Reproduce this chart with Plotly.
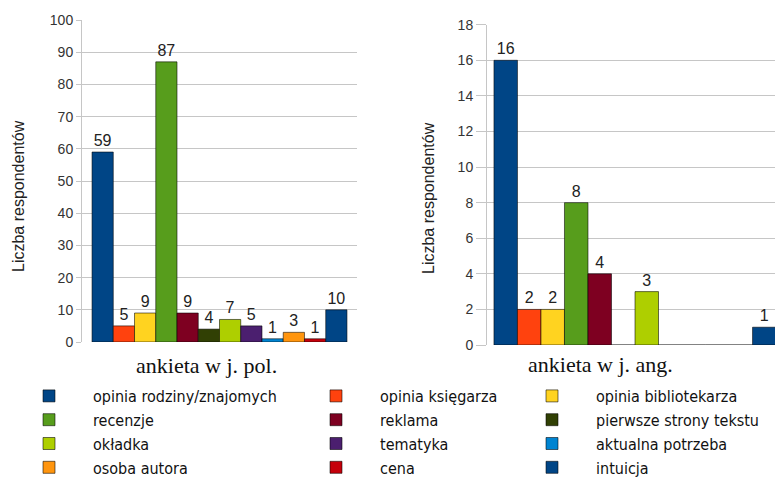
import plotly.graph_objects as go

categories = ["opinia rodziny/znajomych", "opinia księgarza", "opinia bibliotekarza",
              "recenzje", "reklama", "pierwsze strony tekstu",
              "okładka", "tematyka", "aktualna potrzeba",
              "osoba autora", "cena", "intuicja"]
pol_values = [59, 5, 9, 87, 9, 4, 7, 5, 1, 3, 1, 10]
ang_values = [16, 2, 2, 8, 4, 0, 3, 0, 0, 0, 0, 1]
colors = ["#004586", "#ff420e", "#ffd320", "#579d1c", "#7e0021", "#314004",
          "#aecf00", "#4b1f6f", "#0084d1", "#ff950e", "#c5000b", "#004586"]
group_labels = ["ankieta w j. pol.", "ankieta w j. ang."]
y_title = "Liczba respondentów"
pol_ticks = list(range(0, 101, 10))
ang_ticks = list(range(0, 19, 2))

legend_ids = ["legend", "legend2", "legend3"]
OFF = 8  # page body margin
W, H = 783 - OFF, 477 - OFF


def fx(px):
    return (px - OFF) / W


def fy(py):
    return (H - (py - OFF)) / H


fig = go.Figure()
for i, cat in enumerate(categories):
    for k, (vals, xa, ya) in enumerate([(pol_values, "x", "y"), (ang_values, "x2", "y2")]):
        v = vals[i]
        fig.add_trace(go.Bar(
            x=[group_labels[k]], y=[v], name=cat, legendgroup=cat,
            legend=legend_ids[i % 3], showlegend=(k == 0),
            xaxis=xa, yaxis=ya,
            marker=dict(color=colors[i], line=dict(color="rgba(0,0,0,0.55)", width=1)),
            text=[str(v) if v else ""], textposition="outside", cliponaxis=False,
            textfont=dict(family="Liberation Sans, Arial", size=16, color="#222"),
            hoverinfo="name+y",
        ))

tickfont = dict(family="Liberation Sans, Arial", size=14, color="#333")
grid = "#c6c6c6"


def yaxis(domain, rng, ticks, ticklen, anchor):
    return dict(domain=domain, range=rng, tickvals=ticks, ticks="outside", ticklen=ticklen,
                tickcolor=grid, gridcolor=grid, showline=True, linecolor=grid,
                zeroline=False, tickfont=tickfont, anchor=anchor, fixedrange=True,
                automargin=False)


def xaxis(domain, rng, anchor):
    return dict(domain=domain, range=rng, showticklabels=False, showgrid=False,
                zeroline=False, ticks="", anchor=anchor, type="category", automargin=False)


legfont = dict(family="DejaVu Sans Condensed, Liberation Sans Narrow, DejaVu Sans", size=16, color="#111")


def legend(xpx):
    return dict(x=fx(xpx), y=fy(379), xanchor="left", yanchor="top",
                orientation="v", font=legfont, itemwidth=78, tracegroupgap=0,
                bgcolor="rgba(0,0,0,0)", borderwidth=0)


fig.update_layout(
    width=W, height=H, margin=dict(l=0, r=0, t=0, b=0, autoexpand=False),
    paper_bgcolor="white", plot_bgcolor="white",
    barmode="group", bargap=0.047, bargroupgap=0,
    xaxis=xaxis([fx(82), fx(357)], [-0.514, 0.514], "y"),
    yaxis=yaxis([fy(342), fy(20)], [0, 100], pol_ticks, 5, "x"),
    xaxis2=xaxis([fx(487), 1.0], [-0.5, 0.5], "y2"),
    yaxis2=yaxis([fy(345), fy(24.7)], [0, 18], ang_ticks, 10, "x2"),
    legend=legend(5), legend2=legend(292), legend3=legend(508),
    showlegend=True,
)

label_font = dict(family="Liberation Serif, Times New Roman, serif", size=22, color="#111")
fig.add_annotation(text=group_labels[0], x=fx(206), y=fy(365), xref="paper", yref="paper",
                   showarrow=False, font=label_font, xanchor="center", yanchor="middle")
fig.add_annotation(text=group_labels[1], x=fx(600), y=fy(364), xref="paper", yref="paper",
                   showarrow=False, font=label_font, xanchor="center", yanchor="middle")
ytfont = dict(family="Liberation Sans, Arial", size=16, color="#222")
fig.add_annotation(text=y_title, x=fx(18), y=fy(196), xref="paper", yref="paper",
                   showarrow=False, font=ytfont, textangle=-90, xanchor="center", yanchor="middle")
fig.add_annotation(text=y_title, x=fx(428), y=fy(198), xref="paper", yref="paper",
                   showarrow=False, font=ytfont, textangle=-90, xanchor="center", yanchor="middle")

fig.write_html("out.html")
